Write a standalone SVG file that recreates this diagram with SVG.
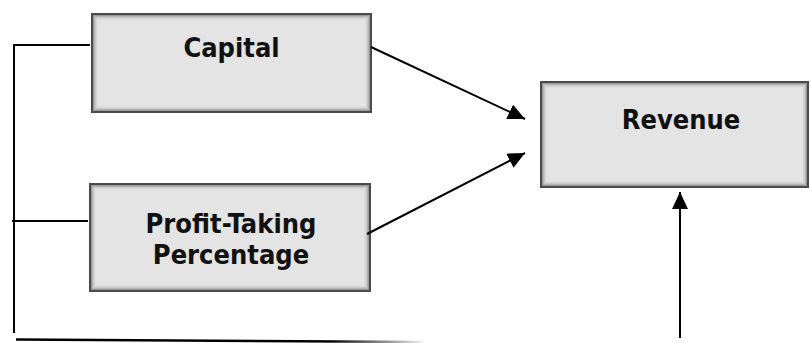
<svg xmlns="http://www.w3.org/2000/svg" width="810" height="343" viewBox="0 0 810 343">
<style>
.border{fill:none;stroke:#4a4a4a;stroke-width:2}
.s1{fill:#7a7a7a}.s2{fill:#999}.s3{fill:#b3b3b3}.s4{fill:#c8c8c8}.s5{fill:#d6d6d6}.s6{fill:#dfdfdf}.s7{fill:#e4e4e4}
.lbl{font-family:"DejaVu Sans Condensed","DejaVu Sans",sans-serif;font-weight:bold;font-size:27px;fill:#111;text-anchor:middle}
.ln{fill:none;stroke:#000;stroke-width:2}
</style>
<defs>
<marker id="ah" markerUnits="userSpaceOnUse" markerWidth="18" markerHeight="16" refX="17" refY="8" orient="auto">
<path d="M0,0 L17,8 L0,16 Z" fill="#000"/>
</marker>
<linearGradient id="fade" gradientUnits="userSpaceOnUse" x1="330" y1="0" x2="428" y2="0">
<stop offset="0" stop-color="#000"/>
<stop offset="1" stop-color="#fff"/>
</linearGradient>
</defs>
<g id="capital">
<rect class="s1" x="92" y="14" width="279" height="98"/>
<rect class="s2" x="93" y="15" width="277" height="96"/>
<rect class="s3" x="94" y="16" width="275" height="94"/>
<rect class="s4" x="95" y="17" width="273" height="92"/>
<rect class="s5" x="96" y="18" width="271" height="90"/>
<rect class="s6" x="97" y="19" width="269" height="88"/>
<rect class="s7" x="98" y="20" width="267" height="86"/>
<rect class="border" x="92" y="14" width="279" height="98"/>
<text class="lbl" x="231.5" y="57">Capital</text>
</g>
<g id="profit">
<rect class="s1" x="90" y="184" width="280" height="107"/>
<rect class="s2" x="91" y="185" width="278" height="105"/>
<rect class="s3" x="92" y="186" width="276" height="103"/>
<rect class="s4" x="93" y="187" width="274" height="101"/>
<rect class="s5" x="94" y="188" width="272" height="99"/>
<rect class="s6" x="95" y="189" width="270" height="97"/>
<rect class="s7" x="96" y="190" width="268" height="95"/>
<rect class="border" x="90" y="184" width="280" height="107"/>
<text class="lbl" x="231" y="233">Profit-Taking</text>
<text class="lbl" x="231" y="264">Percentage</text>
</g>
<g id="revenue">
<rect class="s1" x="541" y="82" width="267" height="105"/>
<rect class="s2" x="542" y="83" width="265" height="103"/>
<rect class="s3" x="543" y="84" width="263" height="101"/>
<rect class="s4" x="544" y="85" width="261" height="99"/>
<rect class="s5" x="545" y="86" width="259" height="97"/>
<rect class="s6" x="546" y="87" width="257" height="95"/>
<rect class="s7" x="547" y="88" width="255" height="93"/>
<rect class="border" x="541" y="82" width="267" height="105"/>
<text class="lbl" x="681" y="129">Revenue</text>
</g>
<g id="connectors">
<path class="ln" d="M90,45 L13,45"/>
<path class="ln" d="M14,45 L14,333"/>
<path class="ln" d="M88,221 L12,221"/>
<path d="M16,339.5 L428,342" fill="none" stroke="url(#fade)" stroke-width="2.5"/>
<path class="ln" d="M371,47 L525,119" marker-end="url(#ah)"/>
<path class="ln" d="M367,234 L525,153" marker-end="url(#ah)"/>
<path class="ln" d="M680,338 L680,192" marker-end="url(#ah)"/>
</g>
</svg>
